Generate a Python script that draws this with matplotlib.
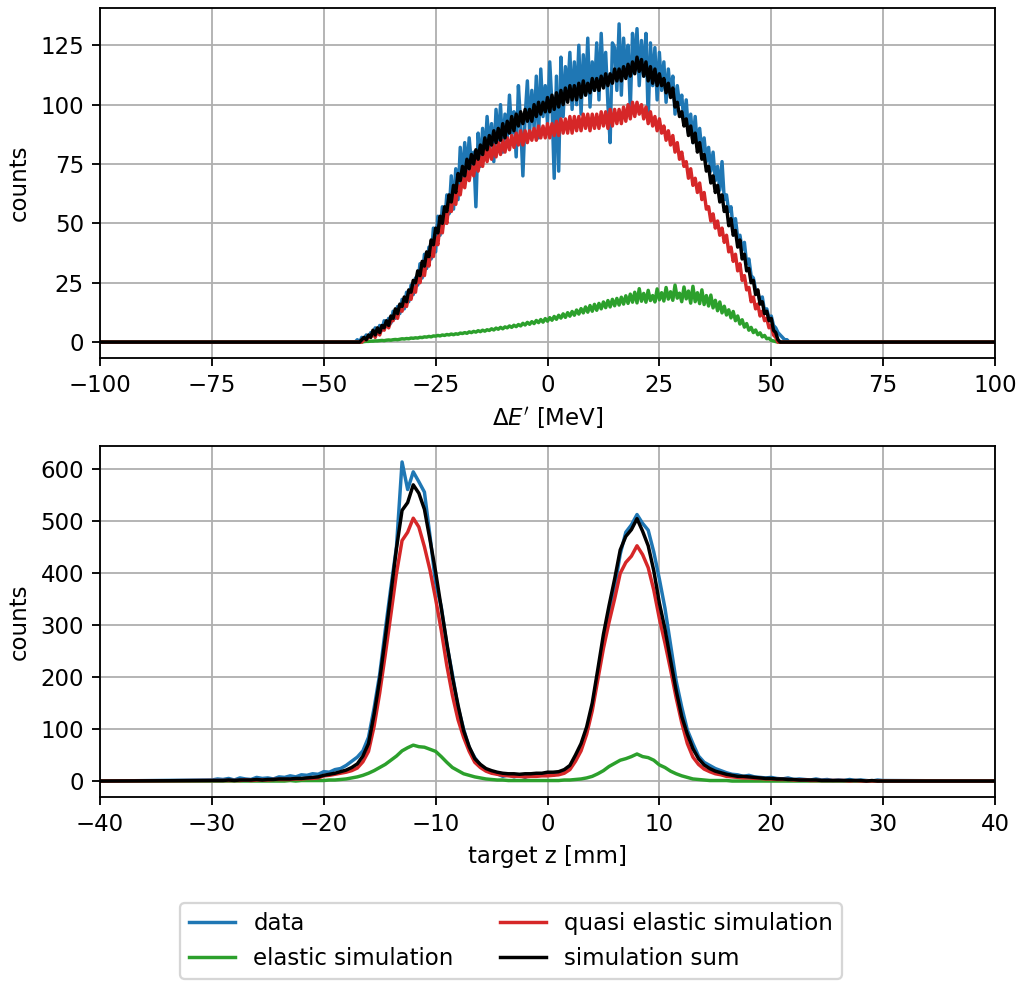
import numpy as np
import matplotlib.pyplot as plt
from matplotlib.ticker import MultipleLocator

# ---- Delta E' spectrum, 0.5 MeV bins, first bin at -44 MeV ----
de_start = -44.0
de_step = 0.5
de_range = (-100, 100)

de_data = [
    0, 0, 0, 1, 0, 2, 1, 3, 2, 4,
    3, 6, 4, 7, 5, 9, 7, 10, 8, 13,
    10, 15, 12, 18, 14, 21, 17, 24, 20, 27,
    24, 33, 27, 37, 31, 40, 35, 48, 38, 53,
    45, 57, 50, 62, 54, 70, 56, 73, 60, 82,
    68, 84, 72, 86, 75, 80, 57, 88, 74, 90,
    78, 95, 82, 92, 76, 98, 84, 100, 80, 96,
    86, 104, 88, 97, 78, 108, 92, 70, 95, 110,
    88, 106, 90, 112, 86, 115, 95, 108, 92, 118,
    100, 69, 112, 72, 120, 95, 116, 104, 122, 98,
    118, 100, 125, 96, 121, 104, 128, 99, 118, 106,
    126, 102, 130, 108, 122, 100, 84, 126, 124, 106,
    134, 104, 128, 112, 125, 98, 130, 115, 132, 108,
    127, 112, 130, 94, 126, 108, 124, 102, 122, 106,
    118, 101, 115, 104, 112, 96, 108, 100, 104, 92,
    102, 88, 96, 84, 95, 82, 90, 80, 86, 76,
    82, 72, 80, 68, 74, 64, 76, 60, 62, 55,
    57, 48, 52, 44, 45, 39, 42, 33, 35, 28,
    27, 22, 21, 17, 19, 13, 14, 10, 11, 7,
    6, 4, 3, 2, 1, 1, 0, 0]

de_elastic = [
    0, 0, 0, 0, 0, 0, 0.2, 0.3, 0.3, 0.4,
    0.4, 0.5, 0.5, 0.6, 0.7, 0.6, 0.8, 0.9, 0.8, 1.0,
    1.1, 1.0, 1.2, 1.4, 1.3, 1.5, 1.4, 1.7, 1.6, 1.8,
    1.7, 2.0, 1.9, 2.2, 2.1, 2.4, 2.2, 2.6, 2.5, 2.8,
    2.6, 3.0, 2.8, 3.2, 3.0, 3.4, 3.1, 3.5, 3.3, 3.8,
    3.6, 4.0, 3.7, 4.3, 4.0, 4.5, 4.2, 4.8, 4.4, 5.0,
    4.6, 5.2, 4.9, 5.6, 5.1, 5.9, 5.4, 6.2, 5.6, 6.4,
    6.0, 6.8, 6.2, 7.1, 6.5, 7.4, 6.8, 7.9, 7.2, 8.3,
    7.5, 8.6, 7.8, 9.1, 8.2, 9.5, 8.4, 9.9, 8.8, 10.3,
    9.2, 10.8, 9.6, 11.3, 10.1, 11.9, 10.4, 12.4, 10.9, 12.9,
    11.3, 13.5, 11.8, 14.1, 12.3, 14.8, 12.6, 15.4, 13.0, 15.9,
    13.4, 16.3, 14.0, 16.9, 14.5, 17.5, 14.8, 18.0, 15.3, 18.4,
    15.6, 18.9, 16.0, 19.5, 16.3, 20.2, 16.8, 21.0, 16.5, 22.5,
    17.2, 20.5, 16.8, 21.8, 17.5, 19.6, 16.9, 22.4, 17.8, 20.8,
    17.3, 23.0, 18.1, 21.2, 17.6, 24.0, 18.5, 20.6, 17.0, 23.2,
    18.2, 21.5, 16.4, 23.5, 17.0, 20.8, 16.2, 22.0, 15.8, 19.6,
    15.2, 19.8, 14.4, 17.6, 13.2, 16.9, 12.3, 15.1, 11.4, 13.6,
    10.2, 12.9, 9.0, 11.0, 7.6, 9.4, 6.3, 7.8, 5.0, 6.2,
    4.0, 5.1, 3.1, 3.9, 2.2, 2.8, 1.4, 1.6, 0.7, 0.5,
    0.2, 0, 0, 0, 0, 0, 0, 0]

de_quasi = [
    0, 0, 0, 0, 0, 0, 1, 1, 2, 2,
    4, 2, 5, 3, 6, 5, 8, 6, 9, 9,
    13, 10, 15, 13, 17, 15, 20, 18, 23, 21,
    28, 25, 31, 28, 35, 32, 40, 36, 44, 41,
    50, 46, 54, 50, 59, 55, 63, 58, 66, 62,
    69, 65, 72, 68, 74, 70, 77, 72, 78, 74,
    81, 76, 82, 77, 83, 78, 84, 79, 85, 80,
    86, 81, 87, 82, 88, 83, 89, 83, 89, 84,
    89, 85, 90, 85, 91, 86, 91, 86, 92, 86,
    92, 87, 93, 87, 94, 88, 94, 88, 95, 88,
    95, 89, 95, 89, 96, 90, 96, 89, 96, 90,
    96, 90, 97, 91, 97, 90, 98, 91, 98, 92,
    98, 92, 99, 93, 100, 94, 101, 95, 101, 96,
    100, 94, 99, 92, 97, 91, 95, 89, 94, 88,
    91, 85, 89, 83, 87, 80, 84, 77, 80, 74,
    76, 69, 73, 66, 69, 63, 67, 60, 63, 56,
    57, 51, 54, 48, 51, 45, 48, 42, 45, 38,
    40, 34, 37, 30, 33, 26, 28, 22, 23, 17,
    19, 14, 16, 11, 13, 9, 10, 6, 7, 3,
    2, 0, 0, 0, 0, 0, 0, 0]

de_sum = [
    0, 0, 0, 0, 0, 1, 2, 1, 3, 2,
    5, 3, 6, 4, 7, 6, 9, 7, 11, 10,
    14, 12, 16, 15, 19, 17, 22, 21, 26, 25,
    30, 28, 34, 32, 38, 36, 43, 41, 48, 46,
    53, 50, 57, 55, 62, 59, 66, 63, 71, 68,
    74, 70, 77, 73, 79, 75, 81, 77, 83, 79,
    86, 81, 87, 83, 89, 84, 90, 85, 92, 86,
    93, 88, 95, 89, 96, 91, 97, 92, 98, 93,
    98, 93, 100, 95, 101, 96, 101, 97, 103, 97,
    104, 98, 105, 99, 106, 100, 107, 101, 108, 102,
    108, 102, 109, 103, 110, 104, 109, 105, 111, 106,
    111, 106, 112, 107, 113, 108, 113, 109, 115, 110,
    115, 110, 116, 111, 117, 112, 118, 113, 120, 114,
    119, 112, 118, 110, 116, 109, 115, 108, 113, 108,
    111, 105, 109, 103, 107, 99, 101, 95, 97, 91,
    94, 87, 91, 84, 88, 80, 84, 77, 79, 72,
    74, 67, 70, 63, 66, 59, 62, 55, 57, 49,
    52, 45, 47, 40, 43, 35, 37, 30, 31, 25,
    26, 20, 22, 16, 17, 12, 13, 9, 10, 5,
    4, 1, 0, 0, 0, 0, 0, 0]

# ---- target z, 0.5 mm bins, first bin at -30 mm ----
z_start = -30.0
z_step = 0.5
z_range = (-40, 40)

z_data = [
    2, 4, 3, 5, 2, 6, 4, 3, 7, 5,
    6, 4, 8, 7, 10, 8, 12, 11, 14, 13,
    18, 17, 22, 24, 30, 38, 46, 58, 84, 140,
    205, 290, 372, 450, 613, 560, 594, 575, 555, 470,
    380, 335, 262, 205, 142, 100, 64, 45, 30, 22,
    18, 14, 9, 12, 8, 11, 7, 13, 10, 12,
    14, 11, 16, 18, 26, 42, 66, 95, 142, 205,
    268, 325, 372, 436, 478, 492, 512, 495, 482, 440,
    388, 332, 262, 192, 142, 98, 72, 48, 36, 30,
    24, 20, 16, 13, 12, 9, 11, 8, 7, 6,
    7, 5, 4, 6, 3, 4, 3, 2, 4, 2,
    3, 1, 2, 1, 3, 1, 2, 1, 0, 2,
    1]

z_elastic = [
    0, 0, 0, 0, 0, 0, 0, 0, 0, 0,
    0, 0, 0, 0, 1, 0, 1, 1, 1, 1,
    1, 2, 2, 3, 4, 6, 8, 11, 15, 20,
    26, 32, 40, 48, 58, 64, 69, 66, 65, 61,
    57, 47, 36, 26, 20, 14, 11, 8, 6, 4,
    3, 2, 2, 1, 1, 1, 1, 1, 1, 1,
    1, 1, 1, 2, 2, 3, 4, 6, 9, 14,
    20, 28, 34, 40, 43, 47, 52, 47, 45, 40,
    31, 26, 19, 14, 10, 7, 4, 3, 2, 1,
    1, 1, 1, 0, 0, 0, 0, 0, 0, 0,
    0, 0, 0, 0, 0, 0, 0, 0, 0, 0,
    0, 0, 0, 0, 0, 0, 0, 0, 0, 0,
    0]

z_quasi = [
    1, 1, 1, 1, 1, 1, 2, 1, 2, 2,
    2, 3, 3, 3, 3, 4, 4, 5, 5, 6,
    10, 11, 13, 15, 17, 20, 25, 37, 57, 105,
    169, 243, 320, 399, 462, 478, 505, 488, 450, 405,
    350, 290, 222, 165, 118, 84, 57, 36, 26, 19,
    15, 13, 11, 10, 9, 9, 8, 9, 9, 10,
    10, 11, 12, 15, 22, 38, 58, 90, 135, 195,
    255, 305, 350, 399, 420, 432, 452, 435, 410, 367,
    312, 265, 214, 160, 112, 72, 46, 32, 23, 18,
    14, 12, 9, 8, 7, 6, 6, 5, 5, 4,
    4, 3, 3, 3, 2, 2, 2, 1, 1, 1,
    1, 1, 1, 1, 0, 1, 0, 0, 0, 0,
    0]

z_sum = [
    1, 1, 1, 2, 1, 2, 2, 2, 3, 2,
    3, 3, 4, 4, 4, 5, 5, 6, 7, 8,
    11, 13, 15, 18, 21, 26, 33, 48, 72, 128,
    195, 275, 360, 447, 520, 535, 569, 553, 522, 463,
    402, 333, 265, 200, 146, 97, 66, 43, 32, 24,
    20, 17, 15, 14, 14, 13, 14, 14, 15, 15,
    17, 17, 18, 22, 30, 50, 72, 104, 150, 215,
    282, 337, 388, 444, 470, 483, 504, 480, 452, 404,
    342, 292, 232, 174, 124, 90, 62, 43, 31, 24,
    19, 16, 13, 11, 9, 9, 8, 7, 6, 5,
    5, 4, 4, 3, 3, 2, 2, 2, 2, 1,
    1, 1, 1, 1, 1, 1, 1, 0, 1, 0,
    0]

labels = ['data', 'elastic simulation', 'quasi elastic simulation', 'simulation sum']
colors = ['#1f77b4', '#2ca02c', '#d62728', 'black']


def padded(start, step, counts, lim):
    # bin centres plus flat zero ends out to the axis limits
    x = start + step * np.arange(len(counts))
    x = np.concatenate([[lim[0]], x, [lim[1]]])
    y = np.concatenate([[0], counts, [0]])
    return x, y


dpi = 165
fig = plt.figure(figsize=(1022 / dpi, 981 / dpi), dpi=dpi)
ax1 = fig.add_axes([100 / 1022, 1 - 358 / 981, 895 / 1022, 350 / 981])
ax2 = fig.add_axes([100 / 1022, 1 - 797 / 981, 895 / 1022, 351 / 981])

lines = []
for series, lab, col in zip([de_data, de_elastic, de_quasi, de_sum], labels, colors):
    x, y = padded(de_start, de_step, series, de_range)
    l, = ax1.plot(x, y, color=col, lw=1.5, label=lab)
    lines.append(l)
ax1.set_xlim(de_range)
ax1.yaxis.set_major_locator(MultipleLocator(25))
ax1.set_xlabel(r"$\Delta E'$ [MeV]")
ax1.set_ylabel('counts')
ax1.grid(True)

for series, lab, col in zip([z_data, z_elastic, z_quasi, z_sum], labels, colors):
    x, y = padded(z_start, z_step, series, z_range)
    ax2.plot(x, y, color=col, lw=1.5, label=lab)
ax2.set_xlim(z_range)
ax2.yaxis.set_major_locator(MultipleLocator(100))
ax2.set_xlabel('target z [mm]')
ax2.set_ylabel('counts')
ax2.grid(True)

fig.legend(handles=lines, loc='lower center', bbox_to_anchor=(0.5, 0.0),
           ncol=2, borderaxespad=0.1)

plt.savefig('out.png', dpi=dpi)
